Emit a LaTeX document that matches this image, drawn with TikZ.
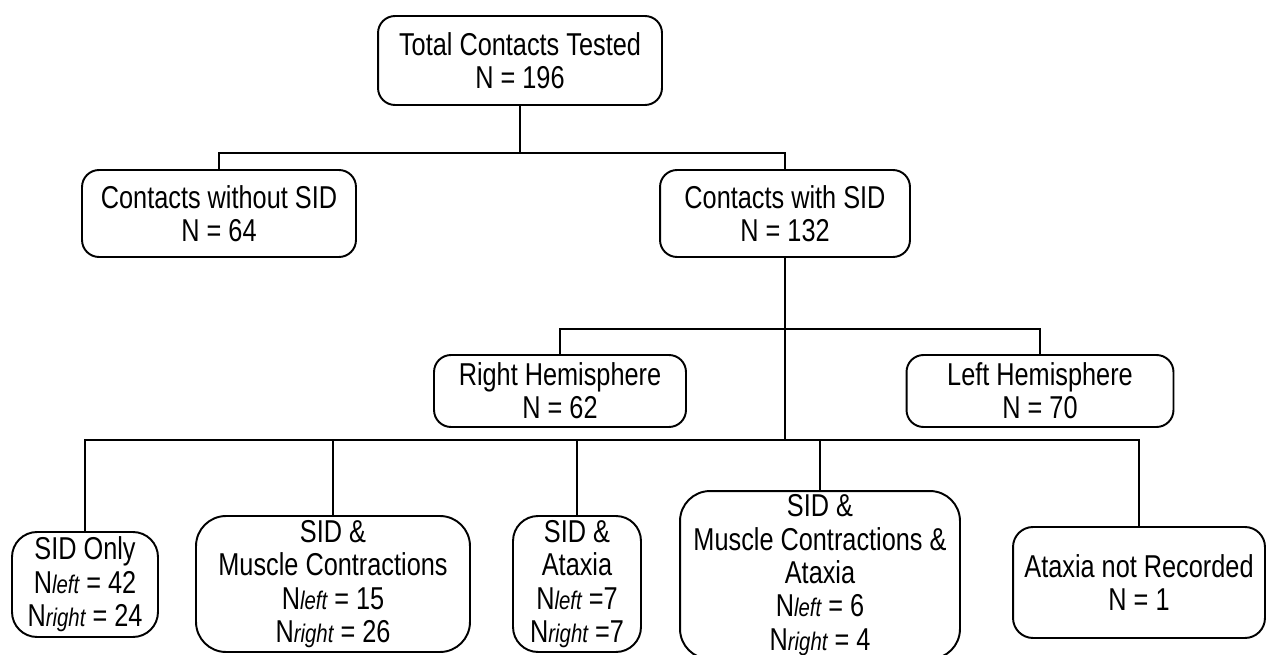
\documentclass[tikz,border=0pt]{standalone}
\usepackage{fontspec}
\setmainfont{Liberation Sans}[FakeStretch=0.8]
\usepackage{tikz}
\usetikzlibrary{calc}
\newcommand{\Nsub}[1]{N{\fontsize{14.5}{14.5}\selectfont\itshape #1}}

\begin{document}
\begin{tikzpicture}[x=0.02cm,y=-0.02cm,line width=1.1pt,
  box/.style={draw,rounded corners=0.34cm,align=center,inner sep=2pt,
    font=\fontsize{18}{19}\selectfont},
  bigbox/.style={box,rounded corners=0.6cm}]

  \useasboundingbox (0,0) rectangle (1267,655);

  % first level
  \node [box,minimum width=5.68cm,minimum height=1.78cm] (total) at (520,60.5) {Total Contacts Tested\\N = 196};
  \node [box,minimum width=5.48cm,minimum height=1.74cm] (without) at (219,213.5) {Contacts without SID\\N = 64};
  \node [box,minimum width=5.0cm,minimum height=1.74cm] (withsid) at (785,213.5) {Contacts with SID\\N = 132};

  % hemispheres
  \node [box,minimum width=5.04cm,minimum height=1.44cm] (righthem) at (560,391) {Right Hemisphere\\N = 62};
  \node [box,minimum width=5.34cm,minimum height=1.44cm] (lefthem) at (1040,391) {Left Hemisphere\\N = 70};

  % outcomes
  \node [box,rounded corners=0.5cm,minimum width=2.92cm,minimum height=2.1cm] (sidonly) at (85,584.5) {SID Only\\\Nsub{left} = 42\\\Nsub{right} = 24};
  \node [bigbox,minimum width=5.48cm,minimum height=2.72cm] (muscle) at (333,584) {SID \&\\Muscle Contractions\\\Nsub{left} = 15\\\Nsub{right} = 26};
  \node [box,rounded corners=0.5cm,minimum width=2.56cm,minimum height=2.72cm] (ataxia) at (577,584) {SID \&\\Ataxia\\\Nsub{left} =7\\\Nsub{right} =7};
  \node [bigbox,minimum width=5.6cm,minimum height=3.32cm] (mca) at (820,575) {SID \&\\Muscle Contractions \&\\Ataxia\\\Nsub{left} = 6\\\Nsub{right} = 4};
  \node [box,rounded corners=0.4cm,minimum width=5.04cm,minimum height=2.22cm] (notrec) at (1139,582.5) {Ataxia not Recorded\\N = 1};

  % branch levels
  \coordinate (j1) at (513,153);
  \coordinate (j2) at (785,329);
  \coordinate (j3) at (785,440);

  \draw (total.south) -- (total.south |- j1);
  \draw (without.north) |- (total.south |- j1) -| (withsid.north);
  \draw (withsid.south) -- (j3);
  \draw (righthem.north) |- (j2) -| (lefthem.north);
  \draw (sidonly.north) |- (j3) -| (notrec.north);
  \draw (muscle.north) -- (muscle.north |- j3);
  \draw (ataxia.north) -- (ataxia.north |- j3);
  \draw (mca.north) -- (mca.north |- j3);

\end{tikzpicture}
\end{document}
